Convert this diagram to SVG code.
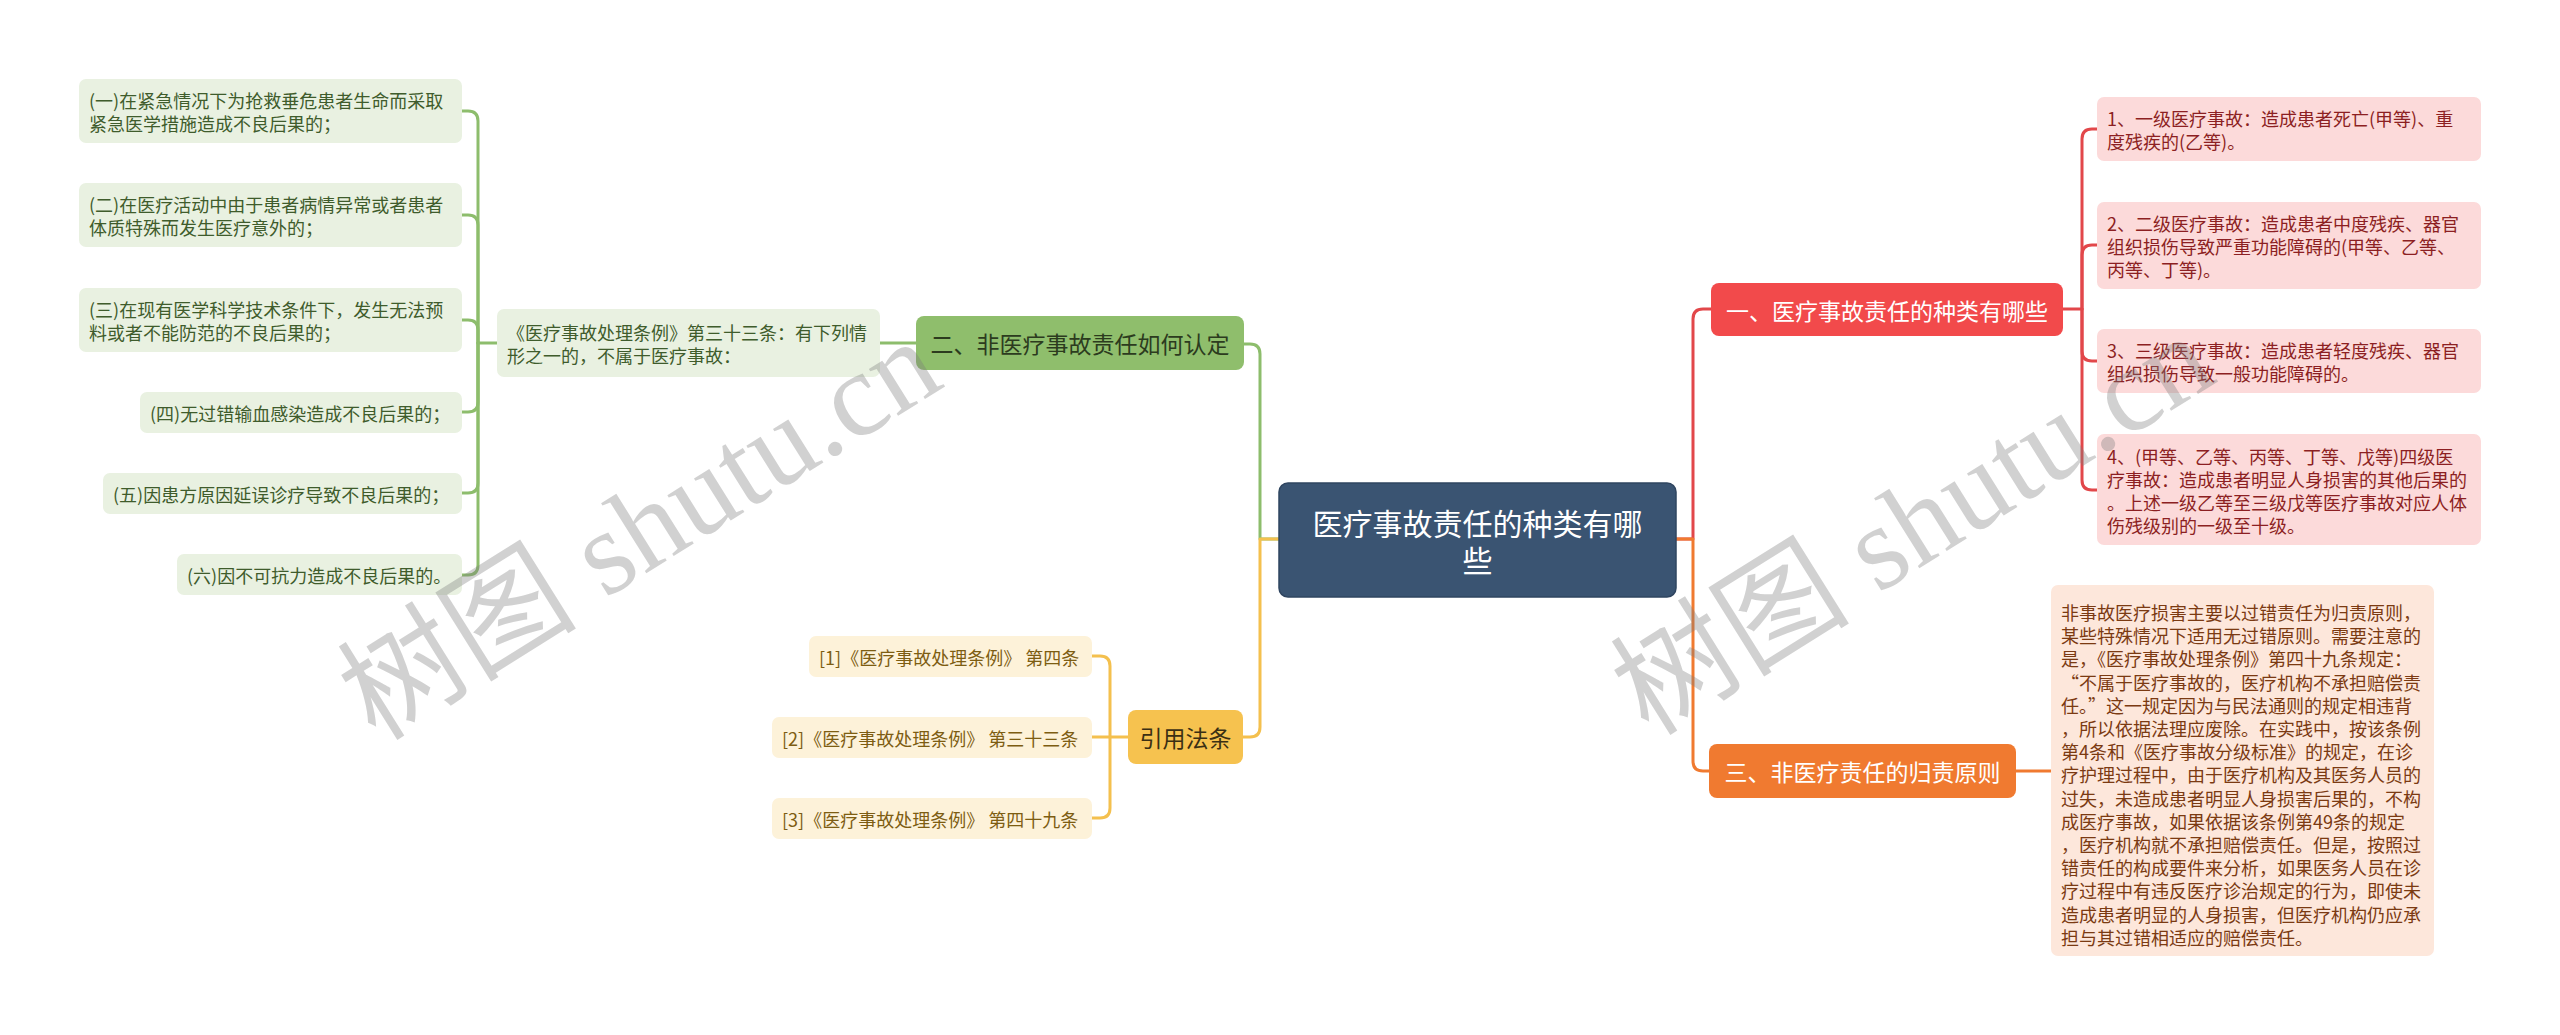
<svg xmlns="http://www.w3.org/2000/svg" width="2560" height="1035" viewBox="0 0 2560 1035">
<style>
text{font-family:"Noto Sans CJK SC","Noto Sans",sans-serif;dominant-baseline:central}
.c{fill:none;stroke-width:3;stroke-linecap:round;stroke-linejoin:round}
.cg{stroke:#8dbd6c}.cr{stroke:#e2474a}.co{stroke:#f07a30}.cy{stroke:#f4c04e}
.lt{font-size:18px}
.mt{font-size:23px;text-anchor:middle}
.gl{fill:#e9f1e1}.gt{fill:#3f5c2c}
.pl{fill:#fcdada}.pt{fill:#8c1f22}
.ol{fill:#fde7db}.ot{fill:#7b3a12}
.yl{fill:#fdf2d9}.yt{fill:#7d5d12}
.wm{font-family:"Liberation Serif","Noto Sans CJK SC",serif;font-size:120px;fill:#7a7a7a;fill-opacity:0.35;text-anchor:middle;dominant-baseline:auto}
</style>
<rect width="2560" height="1035" fill="#ffffff"/>
<g id="connectors">
<path class="c cg" d="M1279,539 H1260 V354 Q1260,344 1250,344 H1244"/>
<path class="c cy" d="M1279,539 H1260 V727 Q1260,737 1250,737 H1243"/>
<path class="c cr" d="M1676,539 H1693 V319 Q1693,309 1703,309 H1711"/>
<path class="c co" d="M1676,539 H1693 V761 Q1693,771 1703,771 H1709"/>
<path class="c cg" d="M916,343 H880"/>
<path class="c cg" d="M497,343 H478 V121 Q478,111 468,111 H462"/>
<path class="c cg" d="M478,343 V225 Q478,215 468,215 H462"/>
<path class="c cg" d="M478,343 V330 Q478,320 468,320 H462"/>
<path class="c cg" d="M478,343 V402 Q478,412 468,412 H462"/>
<path class="c cg" d="M478,343 V483 Q478,493 468,493 H462"/>
<path class="c cg" d="M478,343 V565 Q478,575 468,575 H462"/>
<path class="c cr" d="M2063,309 H2082 V139 Q2082,129 2092,129 H2097"/>
<path class="c cr" d="M2082,309 V255 Q2082,245 2092,245 H2097"/>
<path class="c cr" d="M2082,309 V351 Q2082,361 2092,361 H2097"/>
<path class="c cr" d="M2082,309 V480 Q2082,490 2092,490 H2097"/>
<path class="c co" d="M2016,771 H2051"/>
<path class="c cy" d="M1128,737 H1110 V666 Q1110,656 1100,656 H1092"/>
<path class="c cy" d="M1110,737 H1092"/>
<path class="c cy" d="M1110,737 V808 Q1110,818 1100,818 H1092"/>
</g>
<g id="root">
<rect x="1279" y="483" width="397" height="114" rx="9" fill="#3a5472" stroke="#2f4560" stroke-width="1.5"/>
<text x="1477.5" y="522" font-size="30" fill="#ffffff" text-anchor="middle">医疗事故责任的种类有哪</text>
<text x="1477.5" y="559" font-size="30" fill="#ffffff" text-anchor="middle">些</text>
</g>
<g id="n1">
<rect x="1711" y="283" width="352" height="53" rx="8" fill="#f24a4b"/>
<text class="mt" x="1887" y="309.5" fill="#ffffff">一、医疗事故责任的种类有哪些</text>
</g>
<g id="n2">
<rect x="916" y="316" width="328" height="54" rx="8" fill="#8fbe6c"/>
<text class="mt" x="1080" y="343" fill="#2c3b1e">二、非医疗事故责任如何认定</text>
</g>
<g id="n3">
<rect x="1709" y="744" width="307" height="54" rx="8" fill="#f07a30"/>
<text class="mt" x="1862.5" y="771" fill="#ffffff">三、非医疗责任的归责原则</text>
</g>
<g id="n4">
<rect x="1128" y="710" width="115" height="54" rx="8" fill="#f6c24f"/>
<text class="mt" x="1185.5" y="737" fill="#3b2f14">引用法条</text>
</g>
<g id="n2a">
<rect class="gl" x="497" y="309" width="383" height="68" rx="7"/>
<text class="lt gt" x="507" y="331.5">《医疗事故处理条例》第三十三条：有下列情</text>
<text class="lt gt" x="507" y="354.5">形之一的，不属于医疗事故：</text>
</g>
<g id="g1">
<rect class="gl" x="79" y="79" width="383" height="64" rx="7"/>
<text class="lt gt" x="89" y="99.5">(一)在紧急情况下为抢救垂危患者生命而采取</text>
<text class="lt gt" x="89" y="122.5">紧急医学措施造成不良后果的；</text>
</g>
<g id="g2">
<rect class="gl" x="79" y="183" width="383" height="64" rx="7"/>
<text class="lt gt" x="89" y="203.5">(二)在医疗活动中由于患者病情异常或者患者</text>
<text class="lt gt" x="89" y="226.5">体质特殊而发生医疗意外的；</text>
</g>
<g id="g3">
<rect class="gl" x="79" y="288" width="383" height="64" rx="7"/>
<text class="lt gt" x="89" y="308.5">(三)在现有医学科学技术条件下，发生无法预</text>
<text class="lt gt" x="89" y="331.5">料或者不能防范的不良后果的；</text>
</g>
<g id="g4">
<rect class="gl" x="140" y="392" width="322" height="41" rx="7"/>
<text class="lt gt" x="150" y="412.5">(四)无过错输血感染造成不良后果的；</text>
</g>
<g id="g5">
<rect class="gl" x="103" y="473" width="359" height="41" rx="7"/>
<text class="lt gt" x="113" y="493.5">(五)因患方原因延误诊疗导致不良后果的；</text>
</g>
<g id="g6">
<rect class="gl" x="177" y="554" width="285" height="41" rx="7"/>
<text class="lt gt" x="187" y="574.5">(六)因不可抗力造成不良后果的。</text>
</g>
<g id="p1">
<rect class="pl" x="2097" y="97" width="384" height="64" rx="7"/>
<text class="lt pt" x="2107" y="117.5">1、一级医疗事故：造成患者死亡(甲等)、重</text>
<text class="lt pt" x="2107" y="140.5">度残疾的(乙等)。</text>
</g>
<g id="p2">
<rect class="pl" x="2097" y="202" width="384" height="87" rx="7"/>
<text class="lt pt" x="2107" y="222.5">2、二级医疗事故：造成患者中度残疾、器官</text>
<text class="lt pt" x="2107" y="245.5">组织损伤导致严重功能障碍的(甲等、乙等、</text>
<text class="lt pt" x="2107" y="268.5">丙等、丁等)。</text>
</g>
<g id="p3">
<rect class="pl" x="2097" y="329" width="384" height="64" rx="7"/>
<text class="lt pt" x="2107" y="349.5">3、三级医疗事故：造成患者轻度残疾、器官</text>
<text class="lt pt" x="2107" y="372.5">组织损伤导致一般功能障碍的。</text>
</g>
<g id="p4">
<rect class="pl" x="2097" y="434" width="384" height="111" rx="7"/>
<text class="lt pt" x="2107" y="456">4、(甲等、乙等、丙等、丁等、戊等)四级医</text>
<text class="lt pt" x="2107" y="479">疗事故：造成患者明显人身损害的其他后果的</text>
<text class="lt pt" x="2107" y="502">。上述一级乙等至三级戊等医疗事故对应人体</text>
<text class="lt pt" x="2107" y="525">伤残级别的一级至十级。</text>
</g>
<g id="o1">
<rect class="ol" x="2051" y="585" width="383" height="371" rx="7"/>
<text class="lt ot" x="2061" y="612">非事故医疗损害主要以过错责任为归责原则，</text>
<text class="lt ot" x="2061" y="635.2">某些特殊情况下适用无过错原则。需要注意的</text>
<text class="lt ot" x="2061" y="658.4">是，《医疗事故处理条例》第四十九条规定：</text>
<text class="lt ot" x="2061" y="681.6">“不属于医疗事故的，医疗机构不承担赔偿责</text>
<text class="lt ot" x="2061" y="704.8">任。”这一规定因为与民法通则的规定相违背</text>
<text class="lt ot" x="2061" y="728">，所以依据法理应废除。在实践中，按该条例</text>
<text class="lt ot" x="2061" y="751.2">第4条和《医疗事故分级标准》的规定，在诊</text>
<text class="lt ot" x="2061" y="774.4">疗护理过程中，由于医疗机构及其医务人员的</text>
<text class="lt ot" x="2061" y="797.6">过失，未造成患者明显人身损害后果的，不构</text>
<text class="lt ot" x="2061" y="820.8">成医疗事故，如果依据该条例第49条的规定</text>
<text class="lt ot" x="2061" y="844">，医疗机构就不承担赔偿责任。但是，按照过</text>
<text class="lt ot" x="2061" y="867.2">错责任的构成要件来分析，如果医务人员在诊</text>
<text class="lt ot" x="2061" y="890.4">疗过程中有违反医疗诊治规定的行为，即使未</text>
<text class="lt ot" x="2061" y="913.6">造成患者明显的人身损害，但医疗机构仍应承</text>
<text class="lt ot" x="2061" y="936.8">担与其过错相适应的赔偿责任。</text>
</g>
<g id="y1">
<rect class="yl" x="809" y="636" width="283" height="41" rx="7"/>
<text class="lt yt" x="819" y="656.5">[1]《医疗事故处理条例》 第四条</text>
</g>
<g id="y2">
<rect class="yl" x="772" y="717" width="320" height="41" rx="7"/>
<text class="lt yt" x="782" y="737.5">[2]《医疗事故处理条例》 第三十三条</text>
</g>
<g id="y3">
<rect class="yl" x="772" y="798" width="320" height="41" rx="7"/>
<text class="lt yt" x="782" y="818.5">[3]《医疗事故处理条例》 第四十九条</text>
</g>
<g id="watermarks">
<text class="wm" transform="translate(640,530) rotate(-32)" x="0" y="40">树图 shutu.cn</text>
<text class="wm" transform="translate(1913,525) rotate(-32)" x="0" y="40">树图 shutu.cn</text>
</g>
</svg>
